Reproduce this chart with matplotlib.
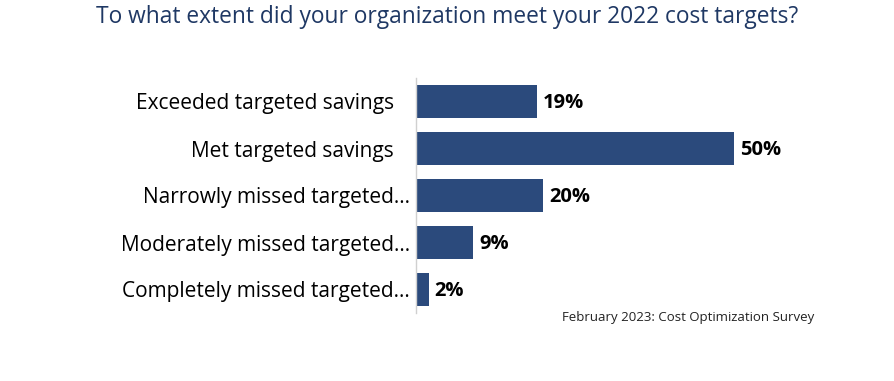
import matplotlib.pyplot as plt

plt.rcParams['font.family'] = ['Open Sans', 'DejaVu Sans']

# Survey data
categories = ['Exceeded targeted savings   ', 'Met targeted savings   ', 'Narrowly missed targeted\u2026',
              'Moderately missed targeted\u2026', 'Completely missed targeted\u2026']
values = [19, 50, 20, 9, 2]
value_labels = ['19%', '50%', '20%', '9%', '2%']

fig = plt.figure(figsize=(8.94, 3.81), dpi=100)
ax = fig.add_axes([416 / 894, 1 - 313 / 381, (797.6 - 416) / 894, 235 / 381])

y_pos = range(len(categories))
ax.barh(y_pos, values, height=0.70, color='#2b4a7c')
ax.set_ylim(4.5, -0.5)
ax.set_xlim(0, 60)

# Value labels next to each bar
for i, v in enumerate(values):
    ax.text(v + 0.9, i + 0.04, value_labels[i], va='center', ha='left',
            fontsize=14.5, fontweight='bold', color='black')

ax.set_yticks(list(y_pos))
ax.set_yticklabels(categories, fontsize=15, color='black')
ax.tick_params(axis='y', length=0, pad=4.5)
ax.set_xticks([])

for s in ['top', 'right', 'bottom']:
    ax.spines[s].set_visible(False)
ax.spines['left'].set_color('#d0d0d0')
ax.spines['left'].set_linewidth(1)

fig.text(0.5, 1 - 17 / 381, 'To what extent did your organization meet your 2022 cost targets?',
         ha='center', va='center', fontsize=16.4, color='#1f3864')
fig.text(814 / 894, 1 - 318 / 381, 'February 2023: Cost Optimization Survey',
         ha='right', va='center', fontsize=9.5, color='#222222')

fig.savefig('out.png', dpi=100)
